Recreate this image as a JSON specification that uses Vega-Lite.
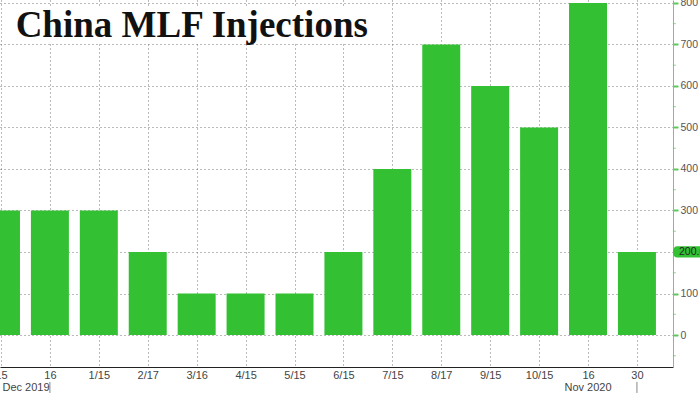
{
  "$schema": "https://vega.github.io/schema/vega-lite/v6.json",
  "width": 673,
  "height": 367,
  "autosize": "none",
  "padding": {"left": 0, "top": 0, "right": 27, "bottom": 26},
  "background": "white",
  "config": {
    "view": {"stroke": null},
    "font": "Liberation Sans",
    "axisY": {"orient": "right"},
    "axisX": {"labelFlush": false},
    "scale": {"continuousPadding": 0}
  },
  "layer": [
    {
      "data": {"values": [
        {"i": 1, "label": "15", "value": 300},
        {"i": 2, "label": "16", "value": 300},
        {"i": 3, "label": "1/15", "value": 300},
        {"i": 4, "label": "2/17", "value": 200},
        {"i": 5, "label": "3/16", "value": 100},
        {"i": 6, "label": "4/15", "value": 100},
        {"i": 7, "label": "5/15", "value": 100},
        {"i": 8, "label": "6/15", "value": 200},
        {"i": 9, "label": "7/15", "value": 400},
        {"i": 10, "label": "8/17", "value": 700},
        {"i": 11, "label": "9/15", "value": 600},
        {"i": 12, "label": "10/15", "value": 500},
        {"i": 13, "label": "16", "value": 800},
        {"i": 14, "label": "30", "value": 200}
      ]},
      "mark": {"type": "bar", "size": 38, "color": "#33c133", "clip": true},
      "encoding": {
        "x": {
          "field": "i", "type": "quantitative",
          "scale": {"domain": [0.98, 14.737], "nice": false, "zero": false, "padding": 0},
          "axis": {
            "orient": "bottom",
            "values": [1, 2, 3, 4, 5, 6, 7, 8, 9, 10, 11, 12, 13, 14],
            "labelExpr": "['15','16','1/15','2/17','3/16','4/15','5/15','6/15','7/15','8/17','9/15','10/15','16','30'][datum.value-1]",
            "title": null,
            "grid": true, "gridDash": [1, 3], "gridColor": "#777", "gridWidth": 1,
            "domainColor": "#222", "domainWidth": 1,
            "ticks": false, "tickSize": 0,
            "labelFontSize": 11, "labelColor": "#444", "labelPadding": 2,
            "labelOverlap": false, "labelFlush": false, "labelBound": false
          }
        },
        "y": {
          "field": "value", "type": "quantitative",
          "scale": {"domain": [-77, 807], "nice": false, "zero": false, "padding": 0},
          "axis": {
            "orient": "right",
            "values": [0, 100, 200, 300, 400, 500, 600, 700, 800],
            "labelExpr": "datum.value === 200 ? '' : datum.label",
            "title": null,
            "grid": true, "gridDash": [1, 3], "gridColor": "#777",
            "domainColor": "#6ccf6c", "domainWidth": 1,
            "tickColor": "#5cc85c", "tickSize": 5, "tickWidth": 2,
            "labelFontSize": 10.5, "labelColor": "#555", "labelPadding": 2,
            "labelOverlap": false, "labelFlush": false, "labelBound": false
          }
        }
      }
    },
    {
      "data": {"values": [{"minor": -50}, {"minor": 50}, {"minor": 150}, {"minor": 250}, {"minor": 350}, {"minor": 450}, {"minor": 550}, {"minor": 650}, {"minor": 750}]},
      "mark": {"type": "tick", "orient": "horizontal", "size": 3, "thickness": 1, "color": "#5cc85c", "clip": false},
      "encoding": {
        "x": {"datum": 14.765, "type": "quantitative", "axis": {"orient": "bottom"}},
        "y": {"field": "minor", "type": "quantitative", "axis": {"orient": "right"}}
      }
    },
    {
      "data": {"values": [{}]},
      "mark": {"type": "rect", "color": "white", "clip": false},
      "encoding": {
        "x": {"datum": 1.16, "type": "quantitative", "axis": {"orient": "bottom"}},
        "x2": {"datum": 8.6},
        "y": {"datum": 792, "type": "quantitative", "axis": {"orient": "right"}},
        "y2": {"datum": 704}
      }
    },
    {
      "data": {"values": [{"text": "China MLF Injections"}]},
      "mark": {"type": "text", "align": "left", "baseline": "alphabetic", "font": "Liberation Serif", "fontWeight": "bold", "fontSize": 37, "color": "#111", "clip": false},
      "encoding": {
        "x": {"datum": 1.3, "type": "quantitative", "axis": {"orient": "bottom"}},
        "y": {"datum": 718, "type": "quantitative", "axis": {"orient": "right"}},
        "text": {"field": "text"}
      }
    },
    {
      "data": {"values": [{"text": "Dec 2019", "pos": 1.03}]},
      "mark": {"type": "text", "align": "left", "baseline": "alphabetic", "fontSize": 11, "color": "#444", "clip": false},
      "encoding": {
        "x": {"field": "pos", "type": "quantitative", "axis": {"orient": "bottom"}},
        "y": {"datum": -134, "type": "quantitative", "axis": {"orient": "right"}},
        "text": {"field": "text"}
      }
    },
    {
      "data": {"values": [{"text": "Nov 2020", "pos": 13.0}]},
      "mark": {"type": "text", "align": "center", "baseline": "alphabetic", "fontSize": 11, "color": "#444", "clip": false},
      "encoding": {
        "x": {"field": "pos", "type": "quantitative", "axis": {"orient": "bottom"}},
        "y": {"datum": -134, "type": "quantitative", "axis": {"orient": "right"}},
        "text": {"field": "text"}
      }
    },
    {
      "data": {"values": [{"pos": 2}, {"pos": 14}]},
      "mark": {"type": "rule", "color": "#888", "clip": false},
      "encoding": {
        "x": {"field": "pos", "type": "quantitative", "axis": {"orient": "bottom"}},
        "y": {"datum": -113, "type": "quantitative", "axis": {"orient": "right"}},
        "y2": {"datum": -145}
      }
    },
    {
      "data": {"values": [{}]},
      "mark": {"type": "rect", "color": "#33c133", "cornerRadius": 4, "clip": false},
      "encoding": {
        "x": {"datum": 14.74, "type": "quantitative", "axis": {"orient": "bottom"}},
        "x2": {"datum": 15.6},
        "y": {"datum": 187, "type": "quantitative", "axis": {"orient": "right"}},
        "y2": {"datum": 214}
      }
    },
    {
      "data": {"values": [{"text": "200.0"}]},
      "mark": {"type": "text", "align": "left", "baseline": "middle", "fontSize": 10.5, "color": "#222", "clip": false},
      "encoding": {
        "x": {"datum": 14.86, "type": "quantitative", "axis": {"orient": "bottom"}},
        "y": {"datum": 200, "type": "quantitative", "axis": {"orient": "right"}},
        "text": {"field": "text"}
      }
    }
  ]
}
